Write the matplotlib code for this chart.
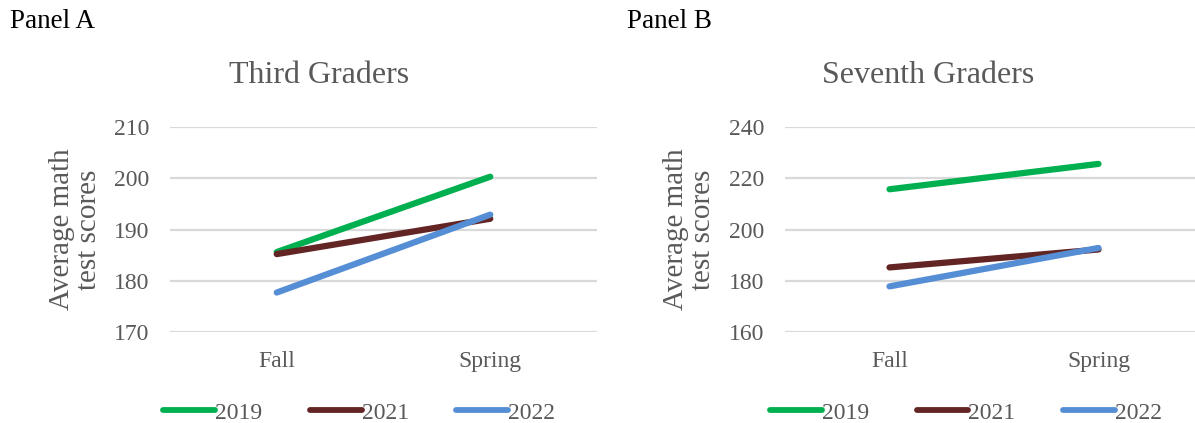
import matplotlib.pyplot as plt

plt.rcParams['font.family'] = ['Liberation Serif', 'DejaVu Serif']

seasons = ['Fall', 'Spring']
years = ['2019', '2021', '2022']
colors = ['#00B050', '#632523', '#558ED5']

# average math test scores, fall -> spring
third_scores = [
    [185.6, 200.3],   # 2019
    [185.2, 192.1],   # 2021
    [177.7, 192.9],   # 2022
]
seventh_scores = [
    [215.7, 225.6],
    [185.2, 192.2],
    [177.8, 192.8],
]
third_ticks = [170, 180, 190, 200, 210]
seventh_ticks = [160, 180, 200, 220, 240]

GRAY = '#595959'

fig = plt.figure(figsize=(11.95, 4.23), dpi=100)

W, H = 1195, 423


def make_axes(left_px, right_px):
    return fig.add_axes([left_px / W, 1 - 332 / H,
                         (right_px - left_px) / W, 205 / H])


def draw_panel(ax, scores, ticks, title, title_x, ylabel_x, legend_x):
    x = list(range(len(seasons)))
    for vals, year, c in zip(scores, years, colors):
        ax.plot(x, vals, color=c, lw=4.5, solid_capstyle='round', label=year,
                zorder=3)
    ax.set_xlim(-0.5, 1.5)
    ax.set_ylim(ticks[0], ticks[-1])
    ax.set_xticks(x)
    ax.set_xticklabels(seasons)
    ax.set_yticks(ticks)
    ax.grid(axis='y', color='#D9D9D9', lw=1.6)
    ax.set_axisbelow(True)
    for s in ax.spines.values():
        s.set_visible(False)
    ax.tick_params(axis='y', length=0, pad=15, labelsize=17, labelcolor=GRAY)
    ax.tick_params(axis='x', length=0, pad=14, labelsize=17, labelcolor=GRAY)
    ax.set_ylabel('Average math\ntest scores', fontsize=21, color=GRAY,
                  linespacing=1.05)
    ax.yaxis.set_label_coords(ylabel_x, 0.5)
    ax.text(title_x, 1.25, title, transform=ax.transAxes, ha='center',
            va='center', fontsize=23, color=GRAY)
    leg = ax.legend(loc='center', bbox_to_anchor=(legend_x, -0.395), ncol=3,
                    frameon=False, fontsize=17, handlelength=2.2,
                    handletextpad=0.0, columnspacing=2.0)
    for t in leg.get_texts():
        t.set_color(GRAY)
    for ln in leg.get_lines():
        ln.set_linewidth(4.2)
        ln.set_solid_capstyle('round')


ax_a = make_axes(170, 597)
draw_panel(ax_a, third_scores, third_ticks, 'Third Graders', 0.349, -0.16, 0.443)

ax_b = make_axes(785, 1203)
draw_panel(ax_b, seventh_scores, seventh_ticks, 'Seventh Graders', 0.343, -0.165, 0.433)

fig.text(10 / W, 1 - 22 / H, 'Panel A', fontsize=19.5, color='black', va='center')
fig.text(627 / W, 1 - 22 / H, 'Panel B', fontsize=19.5, color='black', va='center')

fig.savefig('out.png', dpi=100)
